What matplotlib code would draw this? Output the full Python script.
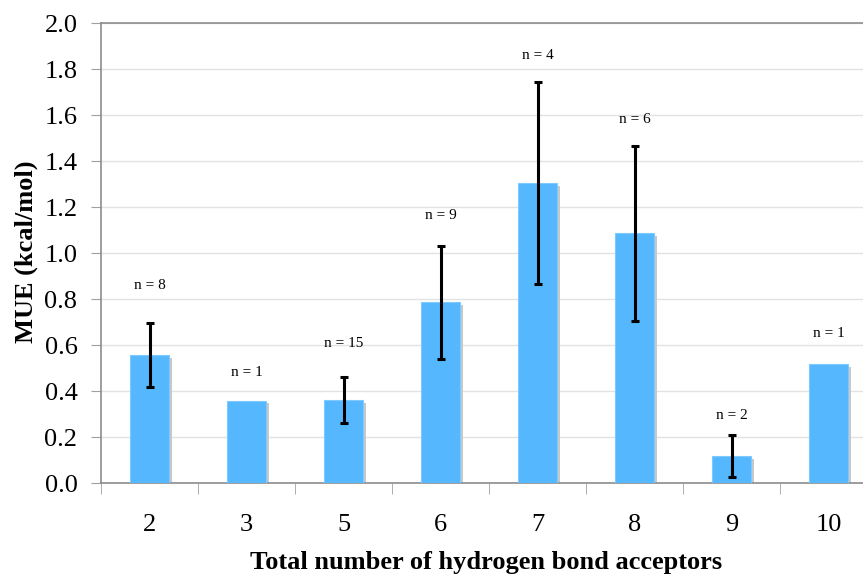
import numpy as np
import matplotlib.pyplot as plt

# mean unsigned error grouped by acceptor count
acceptors = ['2', '3', '5', '6', '7', '8', '9', '10']
mue = [0.557, 0.358, 0.36, 0.785, 1.305, 1.086, 0.118, 0.518]
err = [0.14, 0.0, 0.10, 0.245, 0.44, 0.38, 0.09, 0.0]
counts = [8, 1, 15, 9, 4, 6, 2, 1]

# how far each "n = .." label sits above its bar/error bar (points)
label_lift = [27, 20, 24.5, 22, 19, 19, 14.5, 22]

plt.rcParams['font.family'] = ['Liberation Serif', 'DejaVu Serif']

fig = plt.figure(figsize=(8.63, 5.77), dpi=100)
ax = fig.add_axes([101/863, 1 - 483/577, 776/863, 460/577])

x = np.arange(len(acceptors))
w = 0.4
# drop shadow behind each bar
shadow_dx = 3 / 97
ax.bar(x + shadow_dx, np.array(mue) - 0.012, width=w, bottom=0, color='#c8c8c8', zorder=2)
ax.bar(x, mue, width=w, color='#55b8ff', edgecolor='#7ccaff', linewidth=0.8, zorder=3)

has_err = np.array(err) > 0
ax.errorbar(x[has_err], np.array(mue)[has_err], yerr=np.array(err)[has_err],
            fmt='none', ecolor='black', elinewidth=2.2, capsize=3, capthick=2.2, zorder=4)

for xi, m, e, n, lift in zip(x, mue, err, counts, label_lift):
    ax.annotate('n = %d' % n, (xi, m + e), xytext=(0, lift), textcoords='offset points',
                ha='center', va='center', fontsize=11)

ax.set_xlim(-0.5, len(acceptors) - 0.5)
ax.set_ylim(0, 2.0)
ax.set_yticks(np.arange(0, 2.01, 0.2))
ax.set_yticklabels(['%.1f' % v for v in np.arange(0, 2.01, 0.2)])
ax.yaxis.grid(True, color='#e2e2e2', linewidth=1, zorder=0)
ax.set_axisbelow(True)

ax.set_xticks(x)
ax.set_xticklabels(acceptors)
ax.set_xticks(np.arange(-0.5, len(acceptors)), minor=True)
ax.tick_params(axis='x', which='major', length=0, pad=22, labelsize=19)
ax.tick_params(axis='x', which='minor', length=8, color='#a0a0a0', direction='out')
ax.tick_params(axis='y', length=7, color='#a0a0a0', labelsize=19, pad=10)

for side in ['left', 'bottom', 'top']:
    ax.spines[side].set_color('#8c8c8c')
    ax.spines[side].set_linewidth(1.2)
ax.spines['right'].set_visible(False)

ax.set_ylabel('MUE (kcal/mol)', fontsize=19, fontweight='bold')
ax.yaxis.set_label_coords(26/863, 1 - 252/577, transform=fig.transFigure)
ax.set_xlabel('Total number of hydrogen bond acceptors', fontsize=19, fontweight='bold')
ax.xaxis.set_label_coords(486/863, 1 - 562/577, transform=fig.transFigure)
ax.yaxis.label.set_va('center')
ax.xaxis.label.set_va('center')

fig.savefig('out.png', dpi=100)
